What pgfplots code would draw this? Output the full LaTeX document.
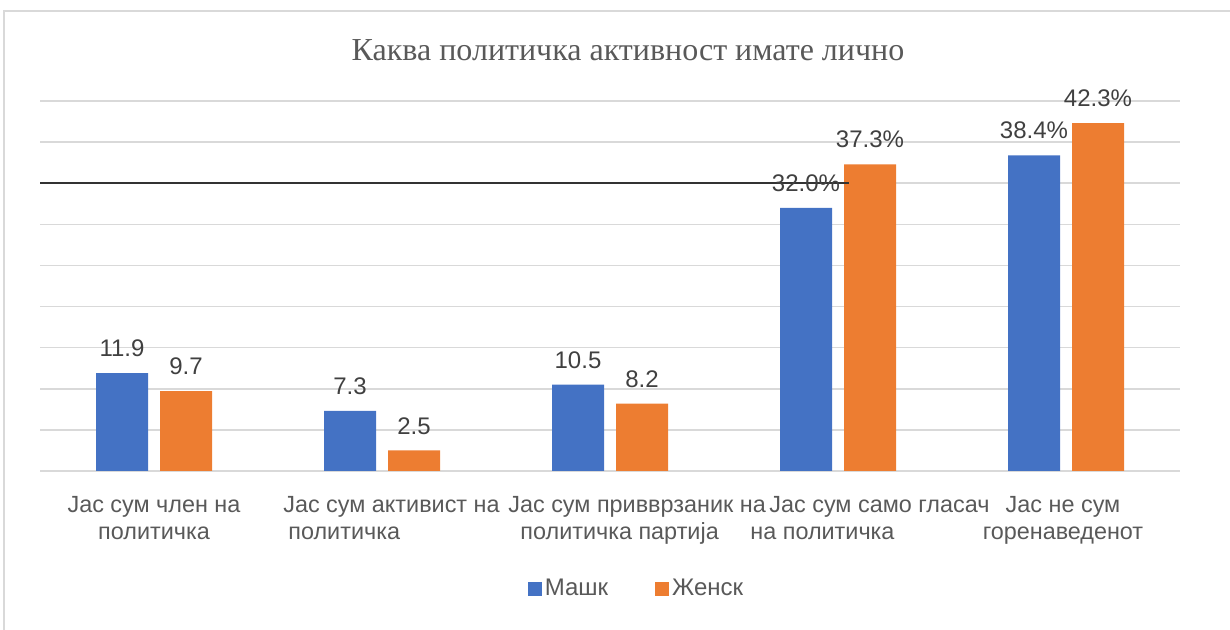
\documentclass[border=0pt]{standalone}
\usepackage{pgfplots}
\pgfplotsset{compat=1.18}
\usepackage{fontspec}
\setmainfont{Liberation Sans}
\newfontfamily\titlefont{Liberation Serif}
\definecolor{masko}{HTML}{4472C4}
\definecolor{zensko}{HTML}{ED7D31}
\definecolor{txt}{HTML}{595959}
\definecolor{lbl}{HTML}{404040}
\definecolor{grd}{HTML}{D9D9D9}
\pgfplotsset{
  vals/.style={
    nodes near coords,
    point meta=explicit symbolic,
    nodes near coords style={font=\fontsize{12}{14}\selectfont, text=lbl,
      anchor=south, inner sep=0pt, text depth=0pt, yshift=8pt},
  },
}
\begin{document}
\begin{tikzpicture}
\useasboundingbox (-20pt,-79.5pt) rectangle (595pt,235.5pt);
\draw[grd, line width=0.8pt] (-18pt,-80pt) -- (-18pt,230pt) -- (596pt,230pt);
\begin{axis}[
    scale only axis,
    width=570pt, height=185pt,
    xmin=-0.5, xmax=4.5,
    ymin=0, ymax=45,
    ytick={0,5,...,45}, yticklabels={},
    xtick=\empty,
    ymajorgrids,
    grid style={grd, line width=0.75pt},
    axis line style={draw=none},
    major tick length=0pt,
    clip=false,
    ybar, bar width=26pt,
    legend style={at={(0.5237,-0.319)}, anchor=center, draw=none,
      legend columns=2, font=\fontsize{12}{14}\selectfont, text=txt,
      nodes={inner sep=1.5pt},
      /tikz/every even column/.append style={column sep=22pt}},
    legend image code/.code={\fill[#1] (0pt,-3.5pt) rectangle (7pt,3.5pt);},
]
    % Машк
    \addplot[fill=masko, draw=none, bar shift=-16pt, vals]
        coordinates {(0,11.9) [11.9] (1,7.3) [7.3] (2,10.5) [10.5] (3,32.0) [32.0\%] (4,38.4) [38.4\%]};
    % Женск
    \addplot[fill=zensko, draw=none, bar shift=16pt, vals]
        coordinates {(0,9.7) [9.7] (1,2.5) [2.5] (2,8.2) [8.2] (3,37.3) [37.3\%] (4,42.3) [42.3\%]};
    \legend{Машк, Женск}
    % stray line in the original at 35
    \addplot[black!80, line width=1pt, sharp plot, bar shift=0pt, forget plot]
        coordinates {(-0.5,35) (3.05,35)};
\end{axis}
\node[anchor=base, font=\titlefont\fontsize{16}{19}\selectfont, text=txt] at (294pt,205pt)
    {Каква политичка активност имате лично};
\begin{scope}[every node/.style={font=\fontsize{11.7}{14}\selectfont, text=txt, inner sep=0pt}]
\node[anchor=base] at (57pt,-21pt) {Јас сум член на};
\node[anchor=base] at (57pt,-34.5pt) {политичка};
\node[anchor=base east] at (230pt,-21pt) {Јас сум активист на};
\node[anchor=base west] at (124pt,-34.5pt) {политичка};
\node[anchor=base west] at (234pt,-21pt) {Јас сум привврзаник на};
\node[anchor=base west] at (240pt,-34.5pt) {политичка партија};
\node[anchor=base west] at (364.5pt,-21pt) {Јас сум само гласач};
\node[anchor=base west] at (355pt,-34.5pt) {на политичка};
\node[anchor=base] at (511.5pt,-21pt) {Јас не сум};
\node[anchor=base] at (511.5pt,-34.5pt) {горенаведенот};
\end{scope}
\end{tikzpicture}
\end{document}
